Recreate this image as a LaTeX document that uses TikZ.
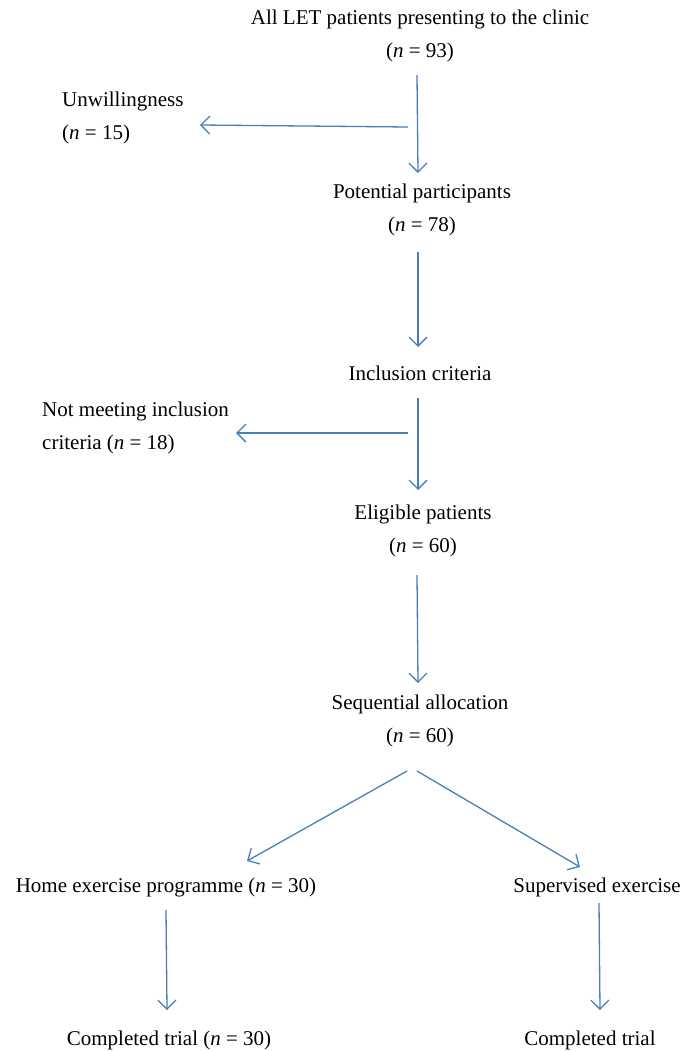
\documentclass[tikz,border=0pt]{standalone}
\usepackage{fontspec}
\setmainfont{Liberation Serif}
\usetikzlibrary{arrows.meta}
\definecolor{flowblue}{HTML}{4A7EBB}
\begin{document}
\begin{tikzpicture}[x=1pt,y=-1pt,
  txt/.style={inner sep=0pt,font=\fontsize{21}{33.5}\selectfont,align=center},
  ltxt/.style={txt,align=left,anchor=west},
  conn/.style={draw=flowblue,line width=1.3pt,-{Straight Barb[length=9pt,width=18pt,line width=1.3pt]}}]
\useasboundingbox (0,0) rectangle (683,1051);
\node[txt] (all) at (420,36) {All LET patients presenting to the clinic\\(\textit{n} = 93)};
\node[ltxt] (unw) at (62,118) {Unwillingness\\(\textit{n} = 15)};
\node[txt] (pot) at (422,210) {Potential participants\\(\textit{n} = 78)};
\node[txt] (inc) at (420,373) {Inclusion criteria};
\node[ltxt] (notm) at (42,428) {Not meeting inclusion\\criteria (\textit{n} = 18)};
\node[txt] (elig) at (423,531) {Eligible patients\\(\textit{n} = 60)};
\node[txt] (seq) at (420,721) {Sequential allocation\\(\textit{n} = 60)};
\node[txt] (home) at (166,887) {Home exercise programme (\textit{n} = 30)};
\node[txt] (sup) at (597,887) {Supervised exercise};
\node[txt] (c1) at (169,1040) {Completed trial (\textit{n} = 30)};
\node[txt] (c2) at (590,1040) {Completed trial};
\coordinate (a1s) at (417,75);  \coordinate (a1e) at (418,173);
\coordinate (b1s) at (408,127); \coordinate (b1e) at (200,125);
\coordinate (a2s) at (418,252); \coordinate (a2e) at (418,347);
\coordinate (a3s) at (418,398); \coordinate (a3e) at (418,490);
\coordinate (b2s) at (408,433); \coordinate (b2e) at (236,433);
\coordinate (a4s) at (417,575); \coordinate (a4e) at (418,683);
\coordinate (d1s) at (407,771); \coordinate (d1e) at (247,861);
\coordinate (d2s) at (417,771); \coordinate (d2e) at (580,867);
\coordinate (h1s) at (166,910); \coordinate (h1e) at (167,1010);
\coordinate (h2s) at (599,903); \coordinate (h2e) at (600,1010);
\foreach \s/\e in {a1s/a1e,b1s/b1e,a2s/a2e,a3s/a3e,b2s/b2e,a4s/a4e,d1s/d1e,d2s/d2e,h1s/h1e,h2s/h2e}
  \draw[conn] (\s) -- (\e);
\end{tikzpicture}
\end{document}
